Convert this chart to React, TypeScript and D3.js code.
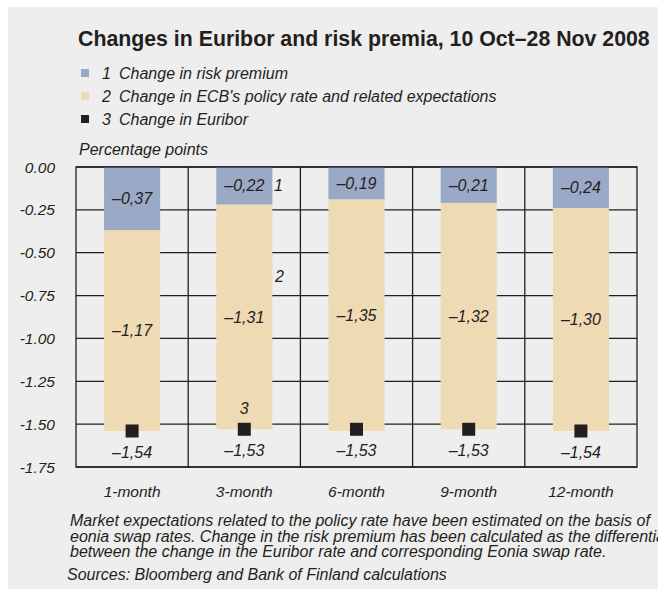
import React from "react";
import * as d3 from "d3";

const categories = ["1-month", "3-month", "6-month", "9-month", "12-month"];
const riskPremium = [-0.37, -0.22, -0.19, -0.21, -0.24];
const policyRate = [-1.17, -1.31, -1.35, -1.32, -1.3];
const euribor = [-1.54, -1.53, -1.53, -1.53, -1.54];
const yTicks = [0, -0.25, -0.5, -0.75, -1, -1.25, -1.5, -1.75];
const legendItems = [
  { key: "1", label: "Change in risk premium", color: "#9aa9c5" },
  { key: "2", label: "Change in ECB's policy rate and related expectations", color: "#eedab3" },
  { key: "3", label: "Change in Euribor", color: "#231f20" },
];
const noteLines = [
  "Market expectations related to the policy rate have been estimated on the basis of",
  "eonia swap rates. Change in the risk premium has been calculated as the differential",
  "between the change in the Euribor rate and corresponding Eonia swap rate.",
];

const App = () => {
  const ref = React.useRef<SVGSVGElement>(null);

  React.useEffect(() => {
    const width = 658;
    const height = 589;
    const margin = { left: 76, right: 21, top: 167, bottom: 122 };
    const ink = "#231f20";
    const font = "'Liberation Sans', Arial, sans-serif";

    const svg = d3.select(ref.current);
    svg.selectAll("*").remove();

    // background panel
    svg.append("rect")
      .attr("x", 8).attr("y", 7)
      .attr("width", width - 8).attr("height", height - 7)
      .attr("fill", "#eeeeee");

    svg.append("text")
      .attr("x", 78).attr("y", 46)
      .attr("font-family", font).attr("font-size", 21.3).attr("font-weight", "bold")
      .attr("fill", ink)
      .text("Changes in Euribor and risk premia, 10 Oct\u201328 Nov 2008");

    // legend
    const legend = svg.append("g").attr("font-family", font).attr("font-size", 16)
      .attr("font-style", "italic").attr("fill", ink);
    legendItems.forEach((d, i) => {
      const yy = 79 + i * 23;
      legend.append("rect").attr("x", 81).attr("y", yy - 10).attr("width", 8).attr("height", 8)
        .attr("fill", d.color);
      legend.append("text").attr("x", 102).attr("y", yy).text(d.key);
      legend.append("text").attr("x", 119).attr("y", yy).text(d.label);
    });

    svg.append("text")
      .attr("x", 79).attr("y", 155)
      .attr("font-family", font).attr("font-size", 16).attr("font-style", "italic")
      .attr("fill", ink)
      .text("Percentage points");

    const x = d3.scaleBand()
      .domain(categories)
      .range([margin.left, width - margin.right])
      .padding(0);
    const y = d3.scaleLinear()
      .domain([0, -1.75])
      .range([margin.top, height - margin.bottom]);

    const barW = x.bandwidth() * 0.5;
    const cx = (c: string) => (x(c) as number) + x.bandwidth() / 2;

    // grid
    const grid = svg.append("g").attr("stroke", ink).attr("stroke-width", 1.3);
    grid.selectAll("line.h")
      .data(yTicks)
      .join("line")
      .attr("class", "h")
      .attr("x1", margin.left).attr("x2", width - margin.right)
      .attr("y1", d => y(d)).attr("y2", d => y(d));
    grid.selectAll("line.v")
      .data(categories.slice(1))
      .join("line")
      .attr("class", "v")
      .attr("x1", d => x(d) as number).attr("x2", d => x(d) as number)
      .attr("y1", margin.top).attr("y2", height - margin.bottom);

    // bars
    const bars = svg.append("g");
    categories.forEach((c, i) => {
      const top = 0;
      const mid = riskPremium[i];
      const bottom = riskPremium[i] + policyRate[i];
      bars.append("rect")
        .attr("x", cx(c) - barW / 2).attr("width", barW)
        .attr("y", y(top)).attr("height", y(mid) - y(top))
        .attr("fill", legendItems[0].color);
      bars.append("rect")
        .attr("x", cx(c) - barW / 2).attr("width", barW)
        .attr("y", y(mid)).attr("height", y(bottom) - y(mid))
        .attr("fill", legendItems[1].color);
    });

    // frame on top
    svg.append("rect")
      .attr("x", margin.left).attr("y", margin.top)
      .attr("width", width - margin.right - margin.left)
      .attr("height", height - margin.bottom - margin.top)
      .attr("fill", "none").attr("stroke", ink).attr("stroke-width", 1.3);

    // euribor markers
    svg.append("g").selectAll("rect")
      .data(euribor)
      .join("rect")
      .attr("x", (d, i) => cx(categories[i]) - 6.5)
      .attr("y", d => y(d) - 6.5)
      .attr("width", 13).attr("height", 13)
      .attr("fill", ink);

    const fmt = (v: number) => "\u2013" + Math.abs(v).toFixed(2).replace(".", ",");
    const labels = svg.append("g").attr("font-family", font).attr("font-size", 16)
      .attr("font-style", "italic").attr("fill", ink).attr("text-anchor", "middle")
      .attr("dominant-baseline", "central");
    categories.forEach((c, i) => {
      labels.append("text").attr("x", cx(c)).attr("y", y(riskPremium[i] / 2)).text(fmt(riskPremium[i]));
      labels.append("text").attr("x", cx(c))
        .attr("y", y(riskPremium[i] + policyRate[i] / 2)).text(fmt(policyRate[i]));
      labels.append("text").attr("x", cx(c)).attr("y", y(euribor[i]) + 21).text(fmt(euribor[i]));
    });

    // series numbers next to the 3-month bar
    const c2 = categories[1];
    labels.append("text").attr("x", cx(c2) + barW / 2 + 6).attr("y", y(riskPremium[1] / 2)).text("1");
    labels.append("text").attr("x", cx(c2) + barW / 2 + 7).attr("y", y(-0.64)).text("2");
    labels.append("text").attr("x", cx(c2)).attr("y", y(euribor[1]) - 21).text("3");

    // axes
    const axisText = svg.append("g").attr("font-family", font).attr("font-size", 15.5)
      .attr("font-style", "italic").attr("fill", ink);
    axisText.selectAll("text.y")
      .data(yTicks)
      .join("text")
      .attr("class", "y")
      .attr("x", 55).attr("y", d => y(d))
      .attr("text-anchor", "end").attr("dominant-baseline", "central")
      .text(d => d.toFixed(2));
    axisText.selectAll("text.x")
      .data(categories)
      .join("text")
      .attr("class", "x")
      .attr("x", d => cx(d)).attr("y", 497)
      .attr("text-anchor", "middle")
      .text(d => d);

    // note and sources
    const note = svg.append("g").attr("font-family", font).attr("font-size", 16)
      .attr("font-style", "italic").attr("fill", ink);
    noteLines.forEach((t, i) => {
      note.append("text").attr("x", 70).attr("y", 526 + i * 15.7).text(t);
    });
    note.append("text").attr("x", 67).attr("y", 580)
      .text("Sources: Bloomberg and Bank of Finland calculations");
  }, []);

  return (
    <svg
      ref={ref}
      width={658}
      height={589}
      style={{ position: "absolute", left: 0, top: 0, overflow: "hidden" }}
    />
  );
};

export default App;
